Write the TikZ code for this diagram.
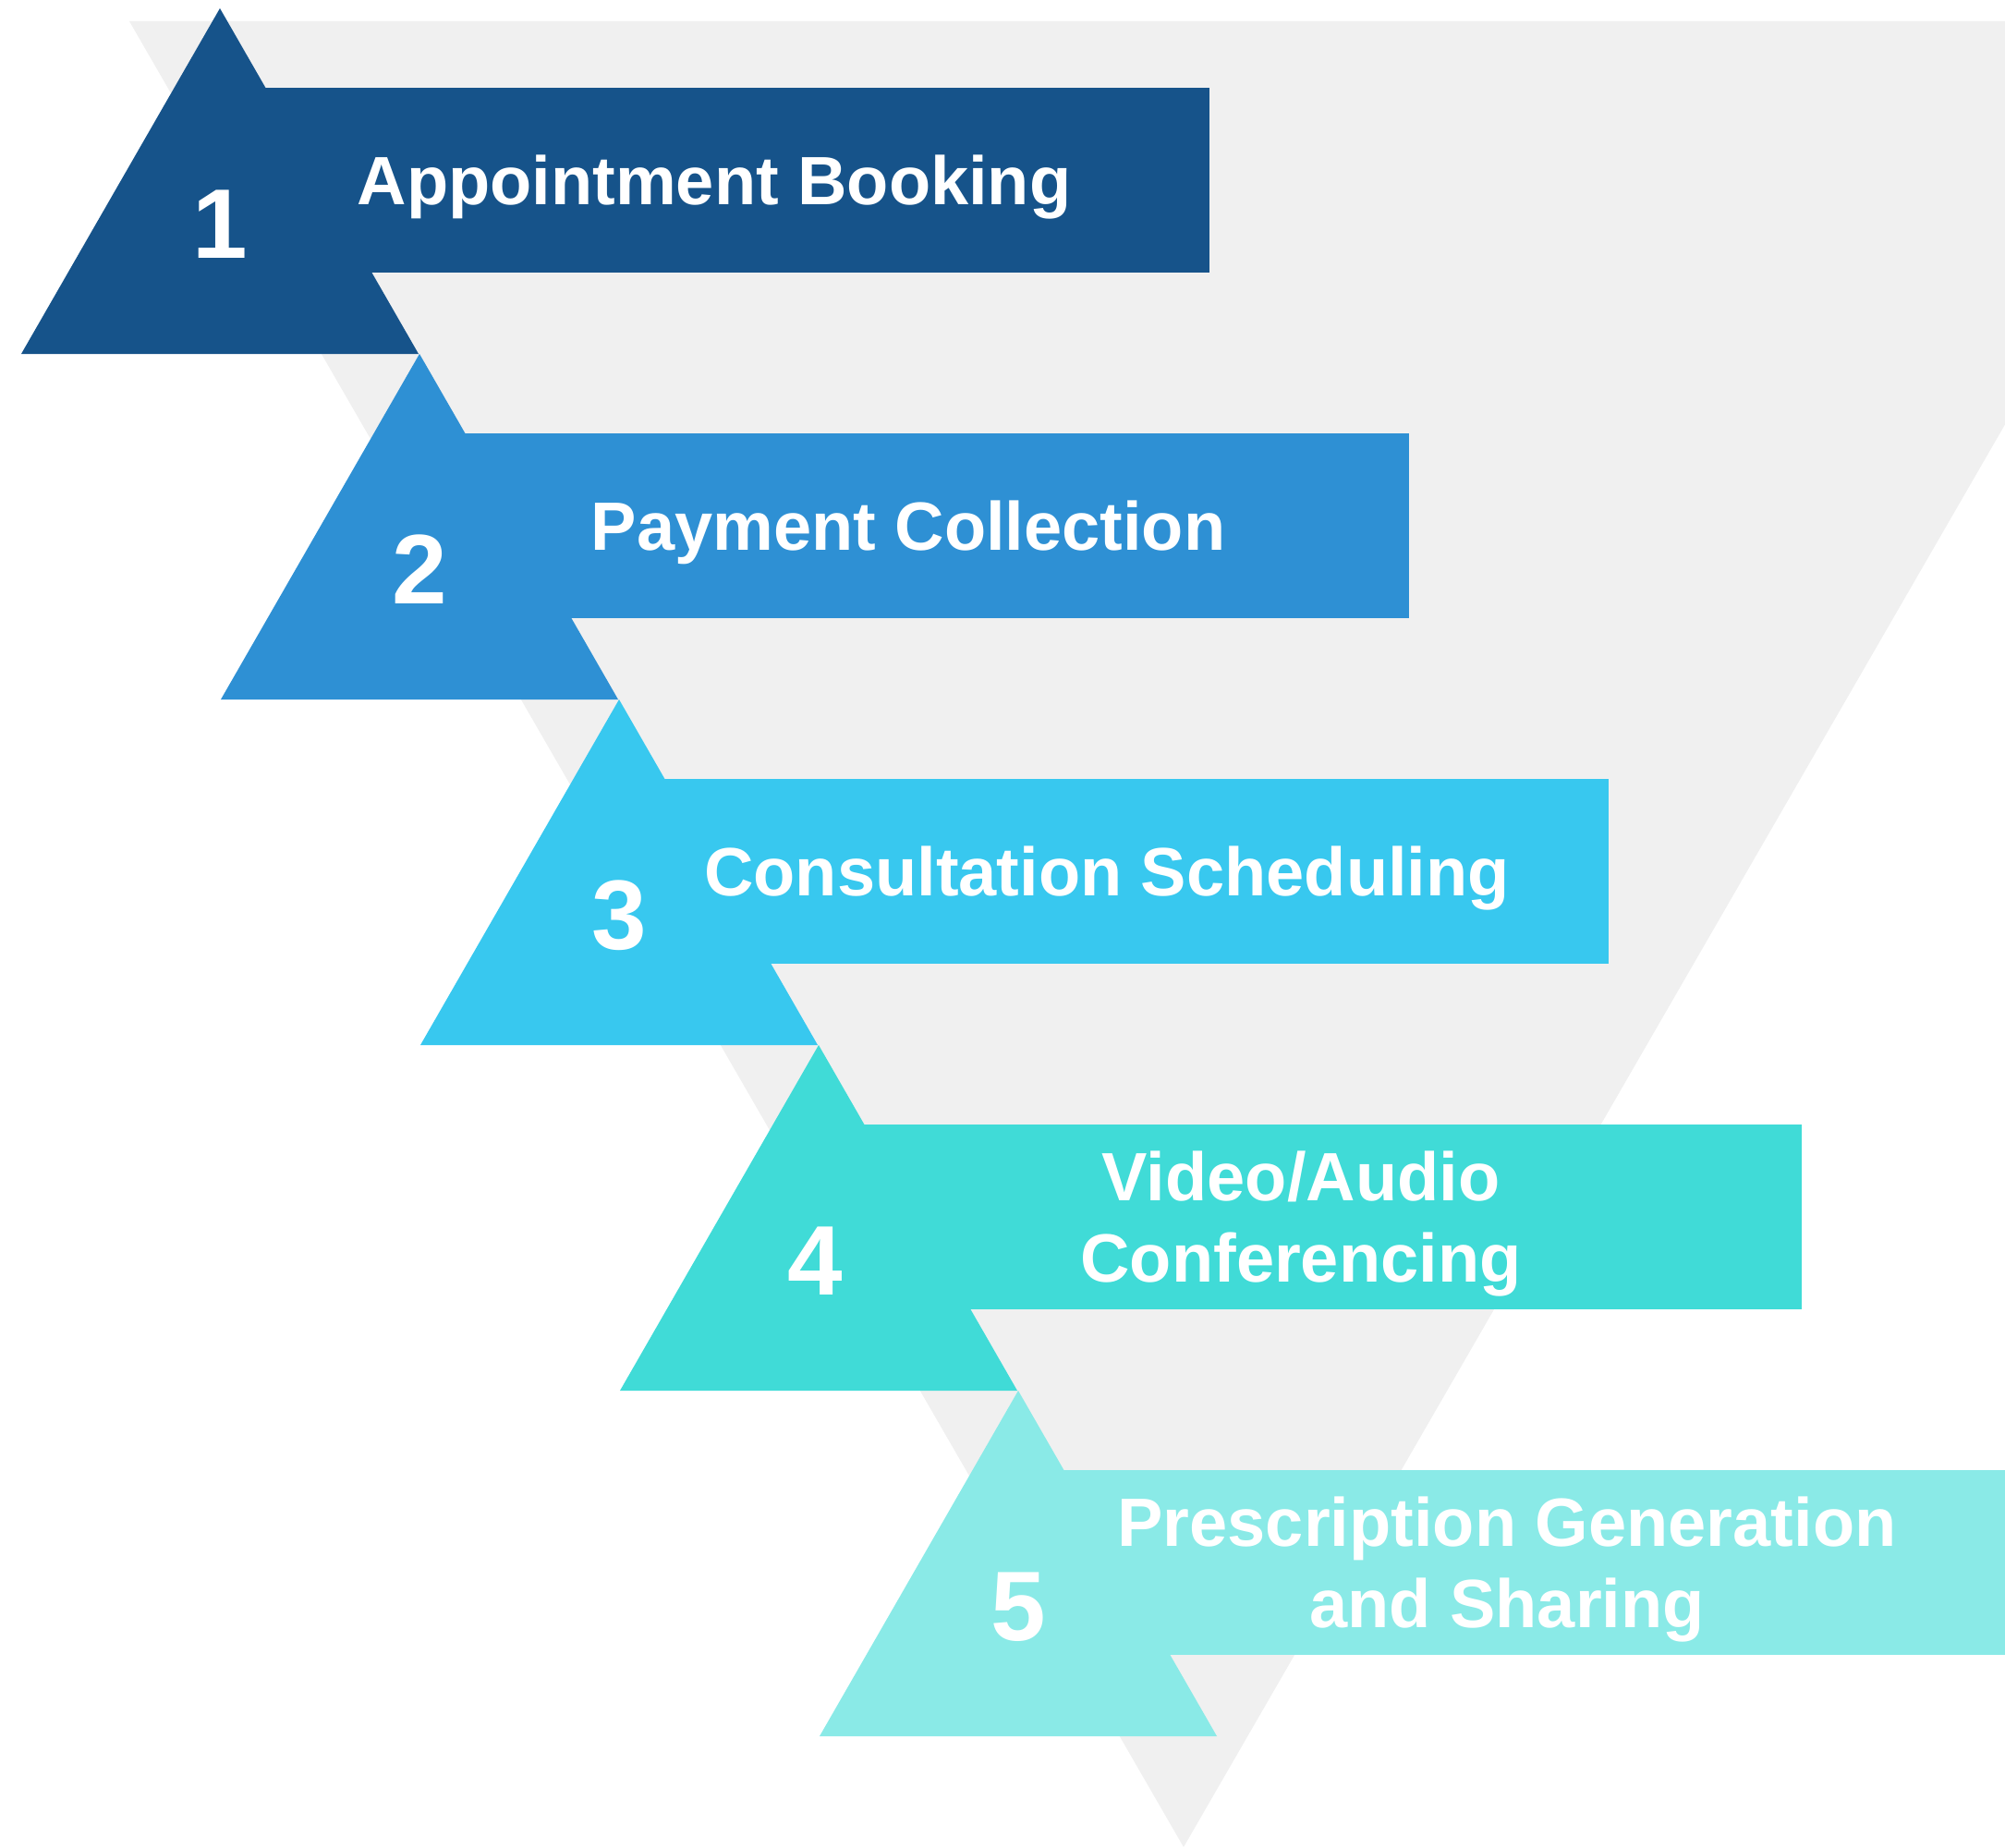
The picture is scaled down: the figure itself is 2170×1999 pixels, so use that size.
\documentclass[tikz,border=0pt]{standalone}
\usepackage{fontspec}
\setmainfont{Liberation Sans}
\definecolor{bgtri}{HTML}{F0F0F0}
\definecolor{cA}{HTML}{16538A}
\definecolor{cB}{HTML}{2E90D4}
\definecolor{cC}{HTML}{38C8EF}
\definecolor{cD}{HTML}{40DBD7}
\definecolor{cE}{HTML}{8AEAE7}
\tikzset{
  numtext/.style={text=white,font=\fontsize{107}{107}\selectfont\bfseries,anchor=base,inner sep=0pt},
  labtext/.style={text=white,font=\fontsize{74}{89}\selectfont\bfseries,anchor=base,inner sep=0pt},
}
\begin{document}
\begin{tikzpicture}[x=1pt,y=-1pt]
\useasboundingbox (0,0) rectangle (2170,1999);
\begin{scope}
\clip (0,0) rectangle (2170,1999);
\fill[bgtri] (140,23) -- (2422,23) -- (1281,1999) -- cycle;
% step shapes
\foreach \k/\col/\rx in {0/cA/1309,1/cB/1525,2/cC/1741,3/cD/1950,4/cE/2200}{
  \pgfmathsetmacro{\ax}{238+216*\k}
  \pgfmathsetmacro{\ay}{9+374*\k}
  \fill[\col] (\ax,\ay) -- (\ax+215,\ay+374) -- (\ax-215,\ay+374) -- cycle;
  \fill[\col] (\ax,\ay+86) rectangle (\rx,\ay+286);
}
\end{scope}
% numbers
\node[numtext] (n1) at (238,279) {1};
\node[numtext] (n2) at (454,653) {2};
\node[numtext] (n3) at (670,1027) {3};
\node[numtext] (n4) at (882,1401) {4};
\node[numtext] (n5) at (1102,1775) {5};
% labels
\node[labtext] (t1) at (773,221) {Appointment Booking};
\node[labtext] (t2) at (983,595) {Payment Collection};
\node[labtext] (t3) at (1198,969) {Consultation Scheduling};
\node[labtext] (t4a) at (1408,1299) {Video/Audio};
\node[labtext] (t4b) at (1408,1387) {Conferencing};
\node[labtext] (t5a) at (1631,1673) {Prescription Generation};
\node[labtext] (t5b) at (1631,1761) {and Sharing};
\end{tikzpicture}
\end{document}
